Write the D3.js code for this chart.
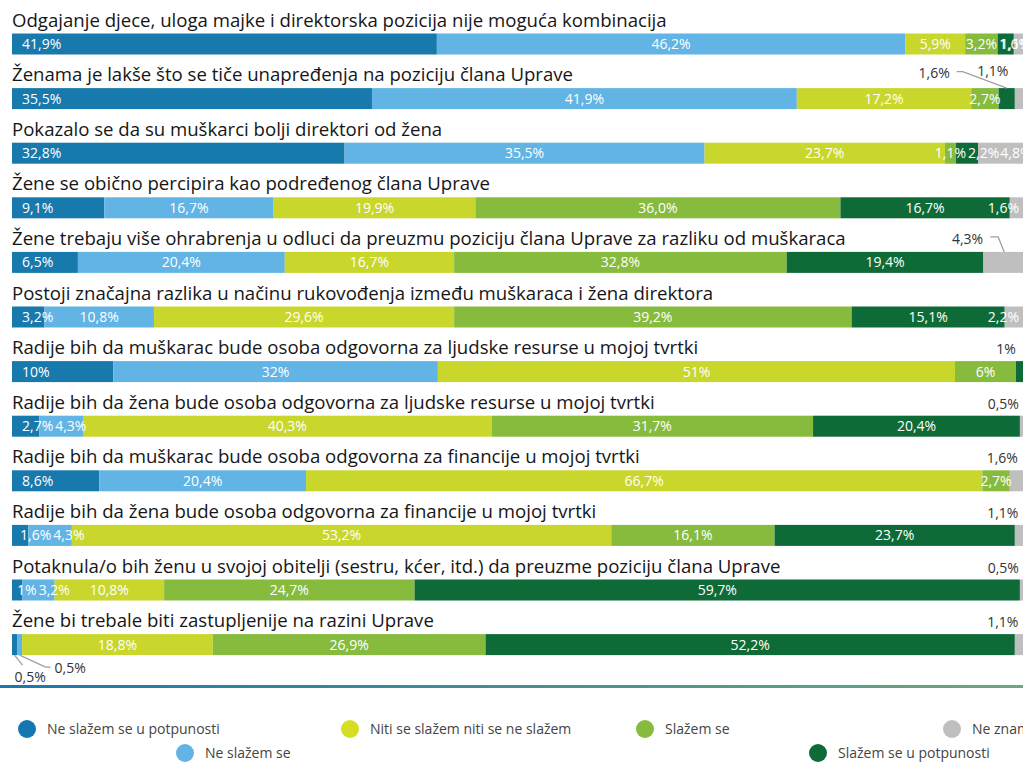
<!DOCTYPE html>
<html>
<head>
<meta charset="utf-8">
<script src="https://cdn.jsdelivr.net/npm/d3@7"></script>
<style>
  body { margin: 0; background: #fff; }
  svg { display: block; font-family: "Open Sans", sans-serif; }
  .title { font-size: 18.6px; fill: #161616; }
  .inlabel { font-size: 14px; fill: #fff; }
  .outlabel { font-size: 14px; fill: #333; }
  .leader { fill: none; stroke: #a0a0a0; stroke-width: 1.3px; }
  .legend text { font-size: 14px; fill: #444; }
</style>
</head>
<body>
<svg id="chart"></svg>
<script>
const questions = [
  "Odgajanje djece, uloga majke i direktorska pozicija nije moguća kombinacija",
  "Ženama je lakše što se tiče unapređenja na poziciju člana Uprave",
  "Pokazalo se da su muškarci bolji direktori od žena",
  "Žene se obično percipira kao podređenog člana Uprave",
  "Žene trebaju više ohrabrenja u odluci da preuzmu poziciju člana Uprave za razliku od muškaraca",
  "Postoji značajna razlika u načinu rukovođenja između muškaraca i žena direktora",
  "Radije bih da muškarac bude osoba odgovorna za ljudske resurse u mojoj tvrtki",
  "Radije bih da žena bude osoba odgovorna za ljudske resurse u mojoj tvrtki",
  "Radije bih da muškarac bude osoba odgovorna za financije u mojoj tvrtki",
  "Radije bih da žena bude osoba odgovorna za financije u mojoj tvrtki",
  "Potaknula/o bih ženu u svojoj obitelji (sestru, kćer, itd.) da preuzme poziciju člana Uprave",
  "Žene bi trebale biti zastupljenije na razini Uprave"
];

const seriesNames = [
  "Ne slažem se u potpunosti",
  "Ne slažem se",
  "Niti se slažem niti se ne slažem",
  "Slažem se",
  "Slažem se u potpunosti",
  "Ne znam"
];

// values as printed on the chart (decimal comma)
const neSlazemUPotpunosti = ["41,9", "35,5", "32,8", "9,1", "6,5", "3,2", "10", "2,7", "8,6", "1,6", "1", "0,5"];
const neSlazem = ["46,2", "41,9", "35,5", "16,7", "20,4", "10,8", "32", "4,3", "20,4", "4,3", "3,2", "0,5"];
const nitiNiti = ["5,9", "17,2", "23,7", "19,9", "16,7", "29,6", "51", "40,3", "66,7", "53,2", "10,8", "18,8"];
const slazem = ["3,2", "2,7", "1,1", "36,0", "32,8", "39,2", "6", "31,7", "2,7", "16,1", "24,7", "26,9"];
const slazemUPotpunosti = ["1,6", "1,6", "2,2", "16,7", "19,4", "15,1", "1", "20,4", "0", "23,7", "59,7", "52,2"];
const neZnam = ["1,1", "1,1", "4,8", "1,6", "4,3", "2,2", "0", "0,5", "1,6", "1,1", "0,5", "1,1"];

const allSeries = [neSlazemUPotpunosti, neSlazem, nitiNiti, slazem, slazemUPotpunosti, neZnam];
const colours = ["#1879ad", "#62b4e4", "#c9d62c", "#86bb3e", "#0e6b38", "#bfbfbf"];
const legendColours = ["#1477b1", "#62b4e4", "#d5de23", "#86bb3e", "#0e6b38", "#bfbfbf"];

// labels drawn outside the bar: [row, series, dx, dy, anchor, leader]
const callouts = [
  [1, 4, -57, -10.5, "end", "bend"],
  [1, 5, -12, -12.5, "end", null],
  [4, 5, -22, -8, "end", "hook"],
  [6, 4, -5, -7, "end", null],
  [7, 5, -3.5, -7, "end", null],
  [8, 5, 0, -7, "end", null],
  [9, 5, -2, -7, "end", null],
  [10, 5, -3.5, -7, "end", null],
  [11, 5, -2, -7, "end", null],
  [11, 1, 35, 38.5, "start", "under"],
  [11, 0, 0, 48, "start", "short"]
];

const width = 1023, height = 763;
const num = s => +s.replace(",", ".");

const svg = d3.select("#chart").attr("width", width).attr("height", height);

const x = d3.scaleLinear().domain([0, 100]).range([12, 1026]);
const row = d3.scaleBand().domain(d3.range(questions.length)).range([26.5, 26.5 + 54.6 * questions.length]);
const barTop = i => row(i) + 7;
const barH = 21;

const rows = questions.map((q, i) => {
  let acc = 0;
  const segs = allSeries.map((s, k) => {
    const v = num(s[i]);
    const seg = { row: i, key: k, text: s[i] + "%", x0: acc, x1: acc + v, v };
    acc += v;
    return seg;
  });
  return { q, i, segs };
});

const isCallout = (i, k) => callouts.some(c => c[0] === i && c[1] === k);

const g = svg.append("g");

const rowG = g.selectAll("g.row").data(rows).join("g").attr("class", "row");

rowG.append("text")
  .attr("class", "title")
  .attr("x", 12)
  .attr("y", d => row(d.i))
  .text(d => d.q);

rowG.selectAll("rect")
  .data(d => d.segs.filter(s => s.v > 0))
  .join("rect")
  .attr("x", s => x(s.x0))
  .attr("y", s => barTop(s.row))
  .attr("width", s => x(s.x1) - x(s.x0))
  .attr("height", barH)
  .attr("fill", s => colours[s.key]);

// in-bar labels: first left aligned, others centred, then nudged so they don't pile up
rowG.each(function (d) {
  const grp = d3.select(this);
  let prevEnd = -Infinity;
  d.segs.forEach((s, k) => {
    if (s.v <= 0 || isCallout(d.i, k)) return;
    const t = grp.append("text")
      .attr("class", "inlabel")
      .attr("y", barTop(d.i) + 15.5)
      .text(s.text);
    const w = t.node().getComputedTextLength();
    const segW = x(s.x1) - x(s.x0);
    let left = k === 0 ? x(s.x0) + Math.min(10, segW / 2) : (x(s.x0) + x(s.x1)) / 2 - w / 2;
    if (left + w > 1019) left = 1019 - w;
    if (left < prevEnd + 2) left = Math.min(prevEnd + 2, 1019 - w * 0.6);
    t.attr("x", left);
    prevEnd = left + w;
  });
});

// outside labels with leader lines
callouts.forEach(([i, k, dx, dy, anchor, leader]) => {
  const s = rows[i].segs[k];
  const cx = (x(s.x0) + x(s.x1)) / 2;
  const top = barTop(i);
  const lx = cx + dx, ly = top + dy;
  g.append("text")
    .attr("class", "outlabel")
    .attr("x", lx)
    .attr("y", ly)
    .attr("text-anchor", anchor)
    .text(s.text);
  if (leader === "bend") {
    g.append("path").attr("class", "leader")
      .attr("d", d3.line()([[lx + 7, ly - 6], [lx + 13, ly - 6], [cx, top]]));
  } else if (leader === "hook") {
    g.append("path").attr("class", "leader")
      .attr("d", d3.line()([[lx + 7, ly - 7], [lx + 15, ly - 7], [cx - 1, top]]));
  } else if (leader === "under") {
    g.append("path").attr("class", "leader")
      .attr("d", d3.line()([[cx, top + barH], [cx + 26, top + barH + 12], [lx - 4, top + barH + 12]]));
  } else if (leader === "short") {
    g.append("path").attr("class", "leader")
      .attr("d", d3.line()([[cx, top + barH], [cx + 8, top + barH + 10]]));
  }
});

// divider line with blue-green gradient
const grad = svg.append("defs").append("linearGradient").attr("id", "rule");
grad.append("stop").attr("offset", "0%").attr("stop-color", "#1f75ad");
grad.append("stop").attr("offset", "100%").attr("stop-color", "#6aa97a");
svg.append("rect").attr("x", 0).attr("y", 685).attr("width", width).attr("height", 3).attr("fill", "url(#rule)");

// legend (two staggered rows)
const legendPos = [[27, 729], [185, 753], [350, 729], [645, 729], [818, 753], [952, 729]];
const leg = svg.append("g").attr("class", "legend")
  .selectAll("g").data(seriesNames).join("g")
  .attr("transform", (d, k) => `translate(${legendPos[k][0]},${legendPos[k][1]})`);
leg.append("circle").attr("r", 9).attr("fill", (d, k) => legendColours[k]);
leg.append("text").attr("x", 20).attr("y", 5).text(d => d);
</script>
</body>
</html>
